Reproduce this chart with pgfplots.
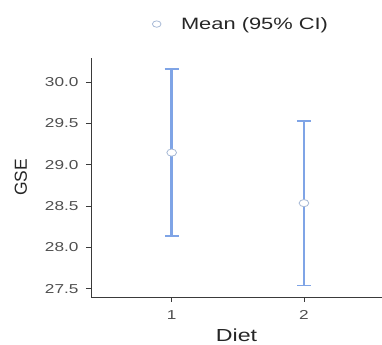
\documentclass[border=0pt]{standalone}
\usepackage{pgfplots}
\pgfplotsset{compat=1.18}
\usepackage{fontspec}
\setmainfont{Liberation Sans}[FakeStretch=1.33]
\newfontfamily\plainsans{Liberation Sans}
\definecolor{cibar}{HTML}{7FA4E6}
\definecolor{mk}{HTML}{A8BAD6}
\definecolor{txt}{HTML}{4F4F4F}
\definecolor{axc}{HTML}{3A3A3A}
\begin{document}
\begin{tikzpicture}
\useasboundingbox (0,0) rectangle (382bp,345bp);
\begin{axis}[
  at={(91bp,48bp)}, anchor=south west,
  scale only axis, width=291bp, height=239bp,
  xmin=0.39, xmax=2.59, ymin=27.40, ymax=30.29,
  axis x line=bottom, axis y line=left,
  axis line style={-, color=axc, line width=0.8pt},
  xtick={1,2}, ytick={27.5,28.0,28.5,29.0,29.5,30.0},
  /pgf/number format/assume math mode=true,
  tick align=outside, major tick length=5bp,
  tick style={color=axc, line width=0.8pt},
  ticklabel style={font=\fontsize{13}{15}\selectfont, text=txt},
  yticklabel style={xshift=-4bp, /pgf/number format/.cd, fixed, fixed zerofill, precision=1},
  xticklabel style={yshift=-5bp},
  xlabel={Diet}, ylabel={\plainsans GSE},
  label style={font=\fontsize{17.5}{20}\selectfont, text=black!85},
  xlabel style={yshift=-2.5bp},
  ylabel style={yshift=11bp},
  legend style={at={(0.20,1.142)}, anchor=west, draw=none, fill=none,
    font=\fontsize{16.5}{19}\selectfont, text=black!85,
    legend cell align=left},
]
\addlegendimage{only marks, mark=o, mark size=3.2bp, draw=mk, line width=0.8pt, mark options={xscale=1.35}}
\addlegendentry{\hspace{18bp}Mean (95\% CI)}
\addplot[forget plot, only marks, mark=*, mark size=3.6bp,
  mark options={fill=white, draw=mk, line width=0.8pt, xscale=1.35},
  error bars/.cd, y dir=both, y explicit,
  error bar style={color=cibar, line width=2.4pt},
  error mark options={rotate=90, mark size=7bp, color=cibar, line width=1.8pt}]
coordinates {
  (1,29.146) +- (0,1.01)
  (2,28.535) +- (0,0.995)
};
\end{axis}
\end{tikzpicture}
\end{document}
